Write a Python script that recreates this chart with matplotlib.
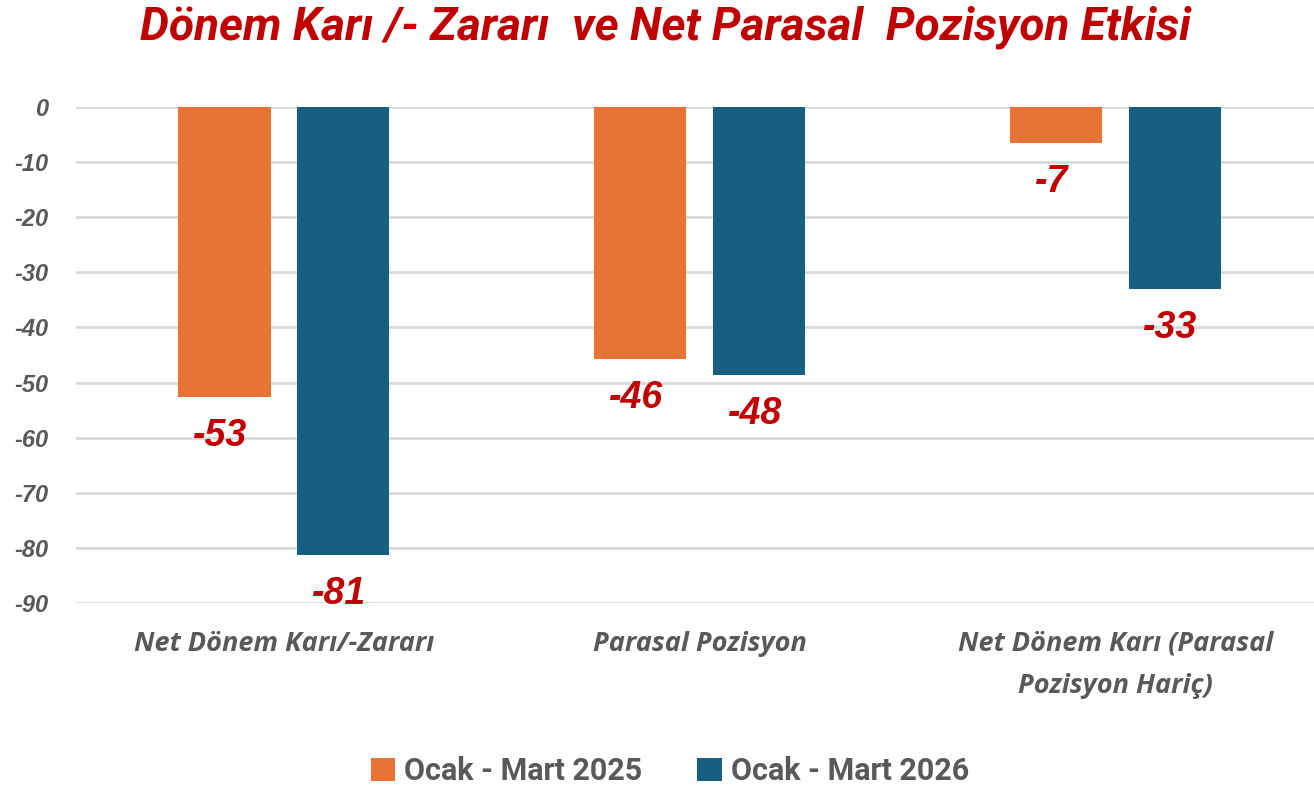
import matplotlib
matplotlib.use("Agg")
import matplotlib.pyplot as plt
from matplotlib.patches import Patch
import numpy as np

categories = ["Net Dönem Karı/-Zararı", "Parasal Pozisyon", "Net Dönem Karı (Parasal\nPozisyon Hariç)"]
series_names = ["Ocak - Mart 2025", "Ocak - Mart 2026"]
values_2025 = [-52.6, -45.7, -6.5]
values_2026 = [-81.3, -48.6, -33.0]
labels_2025 = ["-53", "-46", "-7"]
labels_2026 = ["-81", "-48", "-33"]
yticks = [0, -10, -20, -30, -40, -50, -60, -70, -80, -90]

c_orange = "#E87335"
c_blue = "#175F80"
c_red = "#C00000"
c_gray = "#595959"

fig = plt.figure(figsize=(13.14, 7.88), dpi=100)
ax = fig.add_axes([76/1314, 1-603/788, 1-76/1314, (603-107)/788])

x = np.arange(len(categories))
w = 0.222
off = 0.143
b1 = ax.bar(x - off, values_2025, width=w, color=c_orange, zorder=3)
b2 = ax.bar(x + off, values_2026, width=w, color=c_blue, zorder=3)

for bars, labs in ((b1, labels_2025), (b2, labels_2026)):
    for rect, lab in zip(bars, labs):
        xc = rect.get_x() + rect.get_width()/2
        yb = rect.get_y() + rect.get_height()
        ax.annotate(lab, (xc, yb), xytext=(-3, -15), textcoords="offset points",
                    ha="center", va="top", fontsize=27, fontweight="bold", fontstyle="italic",
                    color=c_red, family="Liberation Sans", zorder=4, annotation_clip=False)

ax.set_xlim(-0.5, 2.478)
ax.set_ylim(-90, 0)
ax.set_yticks(yticks)
ax.set_yticklabels([str(v) for v in yticks], fontsize=17, fontweight="bold", fontstyle="italic",
                   color=c_gray, family="Liberation Sans")
ax.yaxis.grid(True, color="#D9D9D9", lw=2, zorder=0)
ax.set_axisbelow(True)
ax.tick_params(axis="y", length=0, pad=20)
ax.tick_params(axis="x", length=0, pad=20)
ax.set_xticks(x)
ax.set_xticklabels(categories, fontsize=19.5, fontweight="bold", fontstyle="italic", color=c_gray,
                   family=["Open Sans", "DejaVu Sans"], linespacing=1.8)
for s in ax.spines.values():
    s.set_visible(False)

fig.text(665/1314, 1-27/788, "Dönem Karı /- Zararı  ve Net Parasal  Pozisyon Etkisi",
         ha="center", va="center", fontsize=33, fontweight="bold", fontstyle="italic",
         color=c_red, family="Roboto")

handles = [Patch(facecolor=c_orange), Patch(facecolor=c_blue)]
leg = fig.legend(handles, series_names, loc="center", bbox_to_anchor=(670/1314, 1-771/788),
                 ncol=2, frameon=False, handlelength=0.8, handleheight=0.8,
                 handletextpad=0.3, columnspacing=1.8,
                 prop={"family": "Roboto", "weight": "bold", "size": 22})
for t in leg.get_texts():
    t.set_color(c_gray)

fig.savefig("out.png", dpi=100)
